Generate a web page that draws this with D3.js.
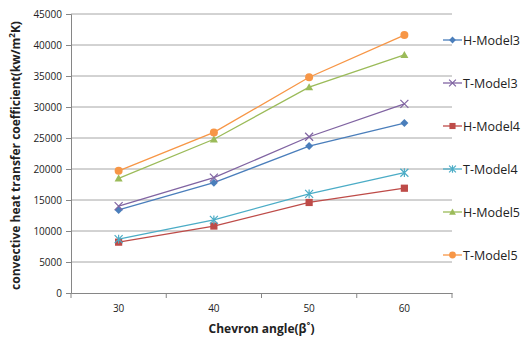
<!DOCTYPE html>
<html>
<head>
<meta charset="utf-8">
<script src="https://cdn.jsdelivr.net/npm/d3@7"></script>
<style>
  body { margin: 0; background: #fff; }
  text { font-family: "Open Sans", "Liberation Sans", sans-serif; fill: #222; }
  .tick text { font-size: 10px; }
  .axis-title { font-weight: bold; font-size: 12px; }
  .legend-text { font-size: 12.5px; }
</style>
</head>
<body>
<div id="chart"></div>
<script>
// chart data
const angles = ['30', '40', '50', '60'];
const seriesNames = ['H-Model3', 'T-Model3', 'H-Model4', 'T-Model4', 'H-Model5', 'T-Model5'];
const hModel3 = [13400, 17800, 23700, 27400];
const tModel3 = [14000, 18600, 25200, 30500];
const hModel4 = [8200, 10800, 14600, 16900];
const tModel4 = [8700, 11800, 16000, 19400];
const hModel5 = [18500, 24800, 33200, 38400];
const tModel5 = [19700, 25900, 34800, 41600];
const yTicks = [0, 5000, 10000, 15000, 20000, 25000, 30000, 35000, 40000, 45000];

const seriesValues = [hModel3, tModel3, hModel4, tModel4, hModel5, tModel5];
const colors = ['#4a7ebb', '#8064a2', '#be4b48', '#4bacc6', '#9bbb59', '#f79646'];
const markers = ['diamond', 'cross', 'square', 'star', 'triangle', 'circle'];

const margin = { top: 14, right: 78, bottom: 46, left: 71 };
const width = 530 - margin.left - margin.right;
const height = 339 - margin.top - margin.bottom;

const svg = d3.select('#chart').append('svg')
    .attr('width', 530)
    .attr('height', 339);

const g = svg.append('g')
    .attr('transform', `translate(${margin.left},${margin.top})`);

const xScale = d3.scaleBand().domain(angles).range([0, width]);
const yScale = d3.scaleLinear().domain([0, 45000]).range([height, 0]);

// gridlines
g.append('g')
    .selectAll('line')
    .data(yTicks.slice(1))
    .join('line')
    .attr('x1', 0).attr('x2', width)
    .attr('y1', d => yScale(d)).attr('y2', d => yScale(d))
    .attr('stroke', '#a6a6a6')
    .attr('stroke-width', 1);

// axes
const yAxis = g.append('g')
    .call(d3.axisLeft(yScale).tickValues(yTicks).tickSize(5).tickPadding(4).tickFormat(d3.format('d')));
const xAxis = g.append('g')
    .attr('transform', `translate(0,${height})`)
    .call(d3.axisBottom(xScale).tickSize(0).tickPadding(12));

// x ticks on band boundaries
const bounds = angles.map(a => xScale(a)).concat([width]);
g.append('g')
    .selectAll('line')
    .data(bounds)
    .join('line')
    .attr('x1', d => d).attr('x2', d => d)
    .attr('y1', height).attr('y2', height + 5)
    .attr('stroke', '#868686');

[xAxis, yAxis].forEach(ax => {
    ax.select('.domain').attr('stroke', '#868686');
    ax.selectAll('.tick line').attr('stroke', '#868686');
    ax.selectAll('.tick text').attr('fill', '#222');
});

// axis titles
svg.append('text')
    .attr('class', 'axis-title')
    .attr('text-anchor', 'middle')
    .attr('x', margin.left + width / 2)
    .attr('y', 333)
    .text('Chevron angle(β˚)');

const yTitle = svg.append('text')
    .attr('class', 'axis-title')
    .attr('text-anchor', 'middle')
    .attr('transform', `translate(20, ${margin.top + height / 2 + 2}) rotate(-90)`);
yTitle.append('tspan').text('convective heat transfer coefficient(kw/m');
yTitle.append('tspan').attr('font-size', '8px').attr('dy', -5).text('2');
yTitle.append('tspan').attr('dy', 5).text('K)');

// marker drawing, k scales the size (legend markers are a bit smaller)
function drawMarker(sel, type, color, k) {
    const r = 4 * k;
    if (type === 'diamond') {
        sel.append('path').attr('d', `M0,${-r}L${r},0L0,${r}L${-r},0Z`).attr('fill', color);
    } else if (type === 'square') {
        sel.append('rect').attr('x', -3.6 * k).attr('y', -3.6 * k)
            .attr('width', 7.2 * k).attr('height', 7.2 * k).attr('fill', color);
    } else if (type === 'triangle') {
        sel.append('path').attr('d', `M0,${-r}L${r},${r * 0.8}L${-r},${r * 0.8}Z`).attr('fill', color);
    } else if (type === 'circle') {
        sel.append('circle').attr('r', r).attr('fill', color);
    } else if (type === 'cross') {
        sel.append('path').attr('d', `M${-r},${-r}L${r},${r}M${-r},${r}L${r},${-r}`)
            .attr('stroke', color).attr('stroke-width', 1.2);
    } else if (type === 'star') {
        sel.append('path').attr('d', `M${-r},${-r}L${r},${r}M${-r},${r}L${r},${-r}M0,${-r * 1.1}L0,${r * 1.1}`)
            .attr('stroke', color).attr('stroke-width', 1.2);
    }
}

const line = d3.line()
    .x((d, i) => xScale(angles[i]) + xScale.bandwidth() / 2)
    .y(d => yScale(d));

seriesValues.forEach((vals, s) => {
    const sg = g.append('g');
    sg.append('path')
        .attr('d', line(vals))
        .attr('fill', 'none')
        .attr('stroke', colors[s])
        .attr('stroke-width', 1.3);
    vals.forEach((v, i) => {
        const m = sg.append('g')
            .attr('transform', `translate(${xScale(angles[i]) + xScale.bandwidth() / 2},${yScale(v)})`);
        drawMarker(m, markers[s], colors[s], 1);
    });
});

// legend
const legend = svg.append('g').attr('transform', 'translate(443, 40)');
seriesNames.forEach((name, s) => {
    const lg = legend.append('g').attr('transform', `translate(0, ${s * 43})`);
    lg.append('line').attr('x1', 0).attr('x2', 19).attr('y1', 0).attr('y2', 0)
        .attr('stroke', colors[s]).attr('stroke-width', 1.3);
    const m = lg.append('g').attr('transform', 'translate(9.5,0)');
    drawMarker(m, markers[s], colors[s], 0.85);
    lg.append('text')
        .attr('class', 'legend-text')
        .attr('x', 20)
        .attr('y', 4.5)
        .text(name);
});
</script>
</body>
</html>
